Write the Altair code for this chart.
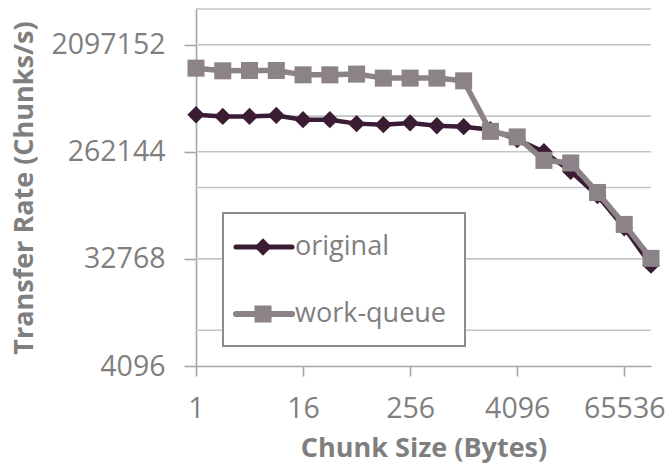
import altair as alt
import pandas as pd

# Chunk sizes in bytes (powers of two)
chunk_sizes = [1, 2, 4, 8, 16, 32, 64, 128, 256, 512, 1024, 2048, 4096,
               8192, 16384, 32768, 65536, 131072]

# Transfer rates in chunks per second
original = [538000, 521000, 521000, 531000, 489000, 489000, 453000, 444000,
            459000, 435000, 427000, 403000, 332000, 263000, 179000, 112000,
            60000, 29000]
work_queue = [1330000, 1263000, 1270000, 1270000, 1168000, 1168000, 1185000,
              1096000, 1096000, 1096000, 1040000, 390000, 350000, 222000,
              211000, 119000, 64000, 33100]

x_ticks = [1, 16, 256, 4096, 65536]
y_ticks = [4096, 32768, 262144, 2097152]
grid_values = [8192, 32768, 131072, 262144, 524288, 2097152, 4194304]

series_names = ["original", "work-queue"]
series_colors = ["#3a1c35", "#8b8388"]
series_shapes = ["diamond", "square"]
series_widths = [4.5, 5.5]
series_sizes = [300, 290]

FONT = "Open Sans"
TEXT = "#7f7f7f"
AXIS = "#a6a6a6"

x_scale = alt.Scale(type="log", base=2, domain=[1, 131072], nice=False)
y_scale = alt.Scale(type="log", base=2, domain=[4096, 4194304], nice=False)

x_axis = alt.Axis(values=x_ticks, format="d", title="Chunk Size (Bytes)",
                  grid=False, tickSize=10, labelPadding=18, labelFlush=False,
                  titlePadding=13)
y_axis = alt.Axis(values=y_ticks, format="d", title="Transfer Rate (Chunks/s)",
                  grid=False, tickSize=12, labelPadding=19, titlePadding=12)

data = pd.DataFrame({
    "size": chunk_sizes * 2,
    "rate": original + work_queue,
    "series": ["original"] * len(chunk_sizes) + ["work-queue"] * len(chunk_sizes),
})

grid = alt.Chart(pd.DataFrame({"g": grid_values})).mark_rule(
    color="#c4c4c4", strokeWidth=1.6
).encode(y=alt.Y("g:Q", scale=y_scale, axis=y_axis))

layers = [grid]
for name, color, shape, width, size in zip(series_names, series_colors,
                                           series_shapes, series_widths,
                                           series_sizes):
    sub = alt.Chart(data).transform_filter(alt.datum.series == name)
    enc = dict(
        x=alt.X("size:Q", scale=x_scale, axis=x_axis),
        y=alt.Y("rate:Q", scale=y_scale, axis=y_axis),
    )
    layers.append(sub.mark_line(color=color, strokeWidth=width).encode(**enc))
    layers.append(sub.mark_point(shape=shape, filled=True, opacity=1,
                                 color=color, size=size).encode(**enc))

# Legend box with line-and-marker samples
legend_box = alt.Chart(pd.DataFrame({"k": [0]})).mark_rect(
    fill="white", stroke="#8c8c8c", strokeWidth=2
).encode(x=alt.value(27), x2=alt.value(269), y=alt.value(204), y2=alt.value(337))
layers.append(legend_box)

legend_rows = [238, 305]
for name, color, shape, width, size, ry in zip(series_names, series_colors,
                                               series_shapes, series_widths,
                                               series_sizes, legend_rows):
    row = alt.Chart(pd.DataFrame({"label": [name]}))
    layers.append(row.mark_rule(color=color, strokeWidth=width + 0.5,
                                strokeCap="round").encode(
        x=alt.value(40), x2=alt.value(96), y=alt.value(ry)))
    layers.append(row.mark_point(shape=shape, filled=True, opacity=1,
                                 color=color, size=size).encode(
        x=alt.value(67), y=alt.value(ry)))
    layers.append(row.mark_text(align="left", baseline="middle", font=FONT,
                                fontSize=27, color=TEXT, dx=0).encode(
        x=alt.value(99), y=alt.value(ry), text="label:N"))

chart = alt.layer(*layers).properties(
    width=455, height=357,
    autosize=alt.AutoSizeParams(type="none"),
    padding={"left": 196, "top": 9, "right": 16, "bottom": 104},
).configure_view(stroke=None).configure_axis(
    labelFont=FONT, labelFontSize=28.5, labelColor=TEXT,
    titleFont=FONT, titleFontSize=27, titleFontWeight="bold", titleColor=TEXT,
    domainColor=AXIS, domainWidth=1.6, tickColor=AXIS, tickWidth=1.6,
)

chart.save("out.html", embed_options={"renderer": "svg", "actions": False})
